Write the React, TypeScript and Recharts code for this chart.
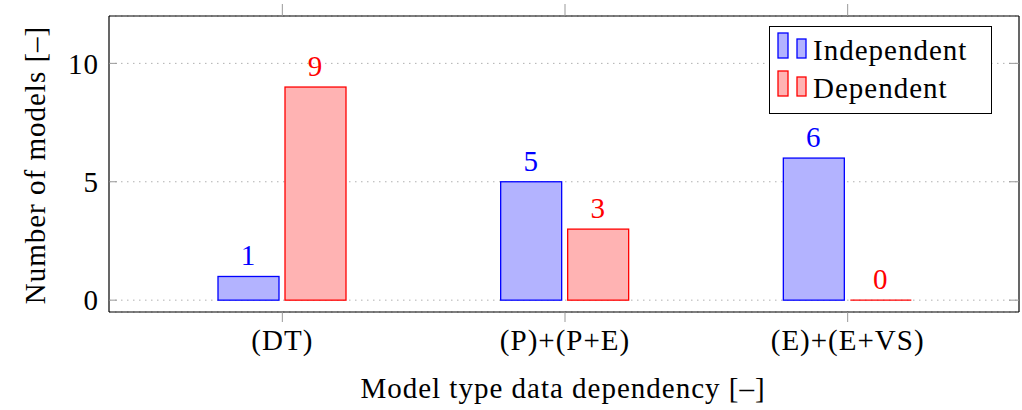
import { BarChart, Bar, XAxis, YAxis, CartesianGrid, Legend, LabelList, Label } from 'recharts';

const categories = ['(DT)', '(P)+(P+E)', '(E)+(E+VS)'];
const independent = [1, 5, 6];
const dependent = [9, 3, 0];
const yTicks = [0, 5, 10];
const seriesOrder = ['independent', 'dependent'];

const data = categories.map((category, i) => ({
  category,
  independent: independent[i],
  dependent: dependent[i],
}));

const FONT = "'Liberation Serif', 'DejaVu Serif', serif";
const textStyle = { fontFamily: FONT, fontSize: 29, letterSpacing: 1, fill: '#000' };

const palette: Record<string, { fill: string; stroke: string }> = {
  independent: { fill: '#b3b3ff', stroke: '#0000ff' },
  dependent: { fill: '#ffb3b3', stroke: '#ff0000' },
};

// zero-height bars still show as a coloured line, like pgfplots does
const BarShape = (props: any) => {
  const { x, y, width, height, fill, stroke } = props;
  if (!height) {
    return <line x1={x} x2={x + width} y1={y} y2={y} stroke={stroke} strokeWidth={1.3} />;
  }
  return <rect x={x} y={y} width={width} height={height} fill={fill} stroke={stroke} strokeWidth={1.3} />;
};

const NoTick = () => <g />;

const LegendBox = ({ payload }: any) => {
  const items = [...(payload || [])].sort(
    (a: any, b: any) => seriesOrder.indexOf(a.dataKey) - seriesOrder.indexOf(b.dataKey)
  );
  return (
    <div style={{ border: '1px solid #000', background: '#fff', width: 221, height: 86 }}>
      <svg width={221} height={86} style={{ display: 'block' }}>
        {items.map((entry: any, i: number) => {
          const c = palette[entry.dataKey] || { fill: entry.color, stroke: entry.color };
          const dy = i * 38;
          return (
            <g key={entry.value}>
              <rect x={8} y={6 + dy} width={10} height={25} fill={c.fill} stroke={c.stroke} strokeWidth={1.3} />
              <rect x={27} y={12 + dy} width={9} height={19} fill={c.fill} stroke={c.stroke} strokeWidth={1.3} />
              <text x={43} y={33 + dy} style={textStyle}>
                {entry.value}
              </text>
            </g>
          );
        })}
      </svg>
    </div>
  );
};

export default function App() {
  return (
    <div style={{ position: 'absolute', left: 0, top: 0, fontFamily: FONT }}>
      <BarChart
        width={1022}
        height={410}
        data={data}
        margin={{ top: 15, right: 3, left: 0, bottom: 0 }}
        barSize={61}
        barGap={6}
      >
        <CartesianGrid vertical={false} stroke="#b0b0b0" strokeDasharray="1.5 4.5" />
        <XAxis
          dataKey="category"
          height={98}
          padding={{ left: 32, right: 30 }}
          axisLine={{ stroke: '#000', strokeWidth: 1.2 }}
          tickLine={{ stroke: '#999' }}
          tickSize={10}
          tickMargin={7}
          tick={textStyle}
        >
          <Label
            content={() => (
              <text x={563} y={398} textAnchor="middle" style={textStyle}>
                Model type data dependency [–]
              </text>
            )}
          />
        </XAxis>
        <XAxis
          xAxisId="top"
          orientation="top"
          type="category"
          dataKey="category"
          domain={categories}
          allowDataOverflow
          height={1}
          padding={{ left: 32, right: 30 }}
          axisLine={{ stroke: '#000', strokeWidth: 1.2 }}
          tickLine={{ stroke: '#999' }}
          tickSize={12}
          interval={0}
          tick={NoTick}
        />
        <YAxis
          type="number"
          width={109}
          domain={[-0.5, 12]}
          allowDataOverflow
          ticks={yTicks}
          axisLine={{ stroke: '#000', strokeWidth: 1.2 }}
          tickLine={false}
          tickSize={0}
          tickMargin={10}
          tick={textStyle}
        >
          <Label
            content={() => (
              <text x={45} y={165} textAnchor="middle" transform="rotate(-90 45 165)" style={textStyle}>
                Number of models [–]
              </text>
            )}
          />
        </YAxis>
        <YAxis
          yAxisId="leftTicks"
          type="number"
          mirror
          domain={[-0.5, 12]}
          allowDataOverflow
          ticks={yTicks}
          interval={0}
          axisLine={false}
          tickLine={{ stroke: '#999' }}
          tickSize={8}
          tick={NoTick}
        />
        <YAxis
          yAxisId="right"
          orientation="right"
          type="number"
          mirror
          domain={[-0.5, 12]}
          allowDataOverflow
          ticks={yTicks}
          interval={0}
          axisLine={{ stroke: '#000', strokeWidth: 1.2 }}
          tickLine={{ stroke: '#999' }}
          tickSize={10}
          tick={NoTick}
        />
        <Legend
          layout="horizontal"
          verticalAlign="middle"
          align="center"
          wrapperStyle={{ top: 26, left: 769, width: 'auto', height: 'auto' }}
          content={<LegendBox />}
        />
        <Bar
          dataKey="independent"
          name="Independent"
          fill={palette.independent.fill}
          stroke={palette.independent.stroke}
          shape={BarShape}
          isAnimationActive={false}
        >
          <LabelList dataKey="independent" position="top" offset={11} style={{ ...textStyle, fill: '#0000ff' }} />
        </Bar>
        <Bar
          dataKey="dependent"
          name="Dependent"
          fill={palette.dependent.fill}
          stroke={palette.dependent.stroke}
          shape={BarShape}
          isAnimationActive={false}
        >
          <LabelList dataKey="dependent" position="top" offset={11} style={{ ...textStyle, fill: '#ff0000' }} />
        </Bar>
      </BarChart>
    </div>
  );
}
